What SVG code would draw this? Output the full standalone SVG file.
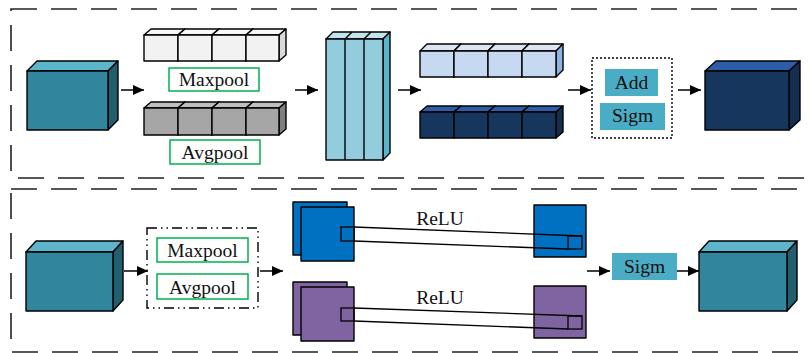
<svg xmlns="http://www.w3.org/2000/svg" width="810" height="353" viewBox="0 0 810 353">
<defs>
<marker id="ah" markerUnits="userSpaceOnUse" markerWidth="12" markerHeight="11" refX="11" refY="5" orient="auto">
<path d="M0,0 L11,5 L0,10 z" fill="#000"/>
</marker>
<style>
.panel{fill:none;stroke:#222;stroke-width:1.6;stroke-dasharray:26 14}
.e{stroke:#000;stroke-width:1.4;stroke-linejoin:round}
.conn{stroke:#000;stroke-width:1.5;fill:none;marker-end:url(#ah)}
.lbl{fill:#fff;stroke:#00b050;stroke-width:1.5}
.t{font-family:"Liberation Serif","Times New Roman",serif;font-size:19.5px;fill:#111;text-anchor:middle}
.tealF{fill:#31859c}.tealT{fill:#5db5cb}.tealS{fill:#215f6e}
.wF{fill:#f2f2f2}.wT{fill:#f8f8f8}.wS{fill:#d9d9d9}
.gF{fill:#a6a6a6}.gT{fill:#bfbfbf}.gS{fill:#7f7f7f}
.cF{fill:#93cddd}.cT{fill:#c3e4ed}.cS{fill:#5ab5cb}
.lbF{fill:#c6d9f1}.lbT{fill:#dce6f2}.lbS{fill:#8db3e2}
.dbF{fill:#17365d}.dbT{fill:#2c5ea8}.dbS{fill:#142e50}
.blue{fill:#0070c0}.purp{fill:#8064a2}
.op{fill:#4bacc6}
.thin{stroke:#000;stroke-width:1.3;fill:none}
</style>
</defs>
<rect class="panel" x="11" y="9" width="812" height="169"/>
<rect class="panel" x="11" y="189" width="812" height="163"/>

<g id="input-top">
<polygon class="e tealT" points="27,71 37,61 118,61 108,71"/>
<polygon class="e tealS" points="108,71 118,61 118,120 108,130"/>
<rect class="e tealF" x="27" y="71" width="81" height="59"/>
</g>

<g id="maxpool-row">
<polygon class="e wT" points="144,35 151,29 185,29 178,35"/><polygon class="e wS" points="178,35 185,29 185,55 178,61"/><rect class="e wF" x="144" y="35" width="34" height="26"/>
<polygon class="e wT" points="178,35 185,29 219,29 212,35"/><polygon class="e wS" points="212,35 219,29 219,55 212,61"/><rect class="e wF" x="178" y="35" width="34" height="26"/>
<polygon class="e wT" points="212,35 219,29 253,29 246,35"/><polygon class="e wS" points="246,35 253,29 253,55 246,61"/><rect class="e wF" x="212" y="35" width="34" height="26"/>
<polygon class="e wT" points="246,35 253,29 286,29 279,35"/><polygon class="e wS" points="279,35 286,29 286,55 279,61"/><rect class="e wF" x="246" y="35" width="33" height="26"/>
</g>
<g id="maxpool-label-top">
<rect class="lbl" x="169" y="68" width="90" height="23"/>
<text class="t" x="214" y="86">Maxpool</text>
</g>

<g id="avgpool-row">
<polygon class="e gT" points="144,108 151,102 185,102 178,108"/><polygon class="e gS" points="178,108 185,102 185,129 178,135"/><rect class="e gF" x="144" y="108" width="34" height="27"/>
<polygon class="e gT" points="178,108 185,102 219,102 212,108"/><polygon class="e gS" points="212,108 219,102 219,129 212,135"/><rect class="e gF" x="178" y="108" width="34" height="27"/>
<polygon class="e gT" points="212,108 219,102 253,102 246,108"/><polygon class="e gS" points="246,108 253,102 253,129 246,135"/><rect class="e gF" x="212" y="108" width="34" height="27"/>
<polygon class="e gT" points="246,108 253,102 286,102 279,108"/><polygon class="e gS" points="279,108 286,102 286,129 279,135"/><rect class="e gF" x="246" y="108" width="33" height="27"/>
</g>
<g id="avgpool-label-top">
<rect class="lbl" x="170" y="140" width="90" height="24"/>
<text class="t" x="215" y="159">Avgpool</text>
</g>

<g id="concat-block">
<polygon class="e cT" points="326,39 333,32 390,32 383,39"/>
<line class="e" x1="345" y1="39" x2="352" y2="32"/>
<line class="e" x1="364" y1="39" x2="371" y2="32"/>
<polygon class="e cS" points="383,39 390,32 390,153 383,160"/>
<rect class="e cF" x="326" y="39" width="57" height="121"/>
<line class="e" x1="345" y1="39" x2="345" y2="160"/>
<line class="e" x1="364" y1="39" x2="364" y2="160"/>
</g>

<g id="lightblue-row">
<polygon class="e lbT" points="420,51 427,44 461,44 454,51"/><polygon class="e lbS" points="454,51 461,44 461,70 454,77"/><rect class="e lbF" x="420" y="51" width="34" height="26"/>
<polygon class="e lbT" points="454,51 461,44 495,44 488,51"/><polygon class="e lbS" points="488,51 495,44 495,70 488,77"/><rect class="e lbF" x="454" y="51" width="34" height="26"/>
<polygon class="e lbT" points="488,51 495,44 529,44 522,51"/><polygon class="e lbS" points="522,51 529,44 529,70 522,77"/><rect class="e lbF" x="488" y="51" width="34" height="26"/>
<polygon class="e lbT" points="522,51 529,44 563,44 556,51"/><polygon class="e lbS" points="556,51 563,44 563,70 556,77"/><rect class="e lbF" x="522" y="51" width="34" height="26"/>
</g>

<g id="darkblue-row">
<polygon class="e dbT" points="420,112 427,106 461,106 454,112"/><polygon class="e dbS" points="454,112 461,106 461,132 454,138"/><rect class="e dbF" x="420" y="112" width="34" height="26"/>
<polygon class="e dbT" points="454,112 461,106 495,106 488,112"/><polygon class="e dbS" points="488,112 495,106 495,132 488,138"/><rect class="e dbF" x="454" y="112" width="34" height="26"/>
<polygon class="e dbT" points="488,112 495,106 529,106 522,112"/><polygon class="e dbS" points="522,112 529,106 529,132 522,138"/><rect class="e dbF" x="488" y="112" width="34" height="26"/>
<polygon class="e dbT" points="522,112 529,106 563,106 556,112"/><polygon class="e dbS" points="556,112 563,106 563,132 556,138"/><rect class="e dbF" x="522" y="112" width="34" height="26"/>
</g>

<g id="add-sigm">
<rect x="592" y="58" width="80" height="80" fill="none" stroke="#000" stroke-width="1.4" stroke-dasharray="2 2"/>
<rect class="op" x="605" y="69" width="53" height="27"/>
<text class="t" x="631.5" y="88.5">Add</text>
<rect class="op" x="600" y="103" width="65" height="27"/>
<text class="t" x="632.5" y="122">Sigm</text>
</g>

<g id="output-top">
<polygon class="e dbT" points="705,71 716,61 800,61 789,71"/>
<polygon class="e dbS" points="789,71 800,61 800,120 789,130"/>
<rect class="e dbF" x="705" y="71" width="84" height="59"/>
</g>

<g id="input-bottom">
<polygon class="e tealT" points="26,252 36,241 123,241 113,252"/>
<polygon class="e tealS" points="113,252 123,241 123,300 113,311"/>
<rect class="e tealF" x="26" y="252" width="87" height="59"/>
</g>

<g id="pool-bottom">
<rect x="147" y="228" width="111" height="80" fill="none" stroke="#000" stroke-width="1.4" stroke-dasharray="10 4 1.5 4 1.5 4"/>
<rect class="lbl" x="157" y="238" width="91" height="24"/>
<text class="t" x="202.5" y="257">Maxpool</text>
<rect class="lbl" x="157" y="274" width="91" height="25"/>
<text class="t" x="202.5" y="294">Avgpool</text>
</g>

<g id="blue-branch">
<rect class="e blue" x="293" y="202" width="54" height="53"/>
<rect class="e blue" x="301" y="207" width="53" height="54"/>
<rect class="thin" x="341" y="227" width="13" height="14"/>
<rect class="e blue" x="534" y="205" width="52" height="52"/>
<rect class="thin" x="568" y="236" width="14" height="13"/>
<line class="thin" x1="354" y1="227" x2="582" y2="236"/>
<line class="thin" x1="354" y1="241" x2="568" y2="249"/>
<text class="t" x="440" y="225">ReLU</text>
</g>

<g id="purple-branch">
<rect class="e purp" x="293" y="282" width="54" height="53"/>
<rect class="e purp" x="301" y="287" width="53" height="54"/>
<rect class="thin" x="341" y="308" width="13" height="13"/>
<rect class="e purp" x="534" y="286" width="52" height="52"/>
<rect class="thin" x="568" y="316" width="14" height="13"/>
<line class="thin" x1="354" y1="308" x2="582" y2="316"/>
<line class="thin" x1="354" y1="321" x2="568" y2="329"/>
<text class="t" x="440" y="304">ReLU</text>
</g>

<g id="sigm-bottom">
<rect class="op" x="612" y="253" width="65" height="27"/>
<text class="t" x="644.5" y="272.5">Sigm</text>
</g>

<g id="output-bottom">
<polygon class="e tealT" points="699,252 709,241 797,241 787,252"/>
<polygon class="e tealS" points="787,252 797,241 797,300 787,311"/>
<rect class="e tealF" x="699" y="252" width="88" height="59"/>
</g>

<g id="connectors">
<line class="conn" x1="121" y1="90" x2="144" y2="90"/>
<line class="conn" x1="295" y1="90" x2="318" y2="90"/>
<line class="conn" x1="398" y1="90" x2="421" y2="90"/>
<line class="conn" x1="568" y1="90" x2="591" y2="90"/>
<line class="conn" x1="678" y1="90" x2="701" y2="90"/>
<line class="conn" x1="124" y1="271" x2="148" y2="271"/>
<line class="conn" x1="260" y1="271" x2="283" y2="271"/>
<line class="conn" x1="587" y1="271" x2="610" y2="271"/>
<line class="conn" x1="677" y1="271" x2="699" y2="271"/>
</g>
</svg>
